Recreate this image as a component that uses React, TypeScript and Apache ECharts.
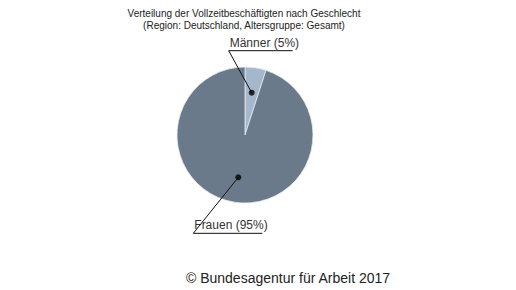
import React, { useEffect, useRef } from "react";
import * as echarts from "echarts";

const titleLines = [
  "Verteilung der Vollzeitbeschäftigten nach Geschlecht",
  "(Region: Deutschland, Altersgruppe: Gesamt)",
];
const categories = ["Männer", "Frauen"];
const shares = [5, 95];
const colors = ["#a4b7cd", "#6b7a8b"];
const footer = "© Bundesagentur für Arbeit 2017";

const CENTER: [number, number] = [245, 135];
const RADIUS = 68;
const DOT_FRACTION = 0.63;
// label line geometry (offsets relative to dot)
const labelGeom = [
  { corner: [-23, -42], width: 64 },
  { corner: [-45, 56], width: 69 },
];

export default function App() {
  const ref = useRef<HTMLDivElement>(null);
  useEffect(() => {
    if (!ref.current) return;
    const chart = echarts.init(ref.current, null, { renderer: "svg" });
    const total = shares.reduce((a, b) => a + b, 0);
    let cum = 0;
    const mids: number[] = [];
    const dots = shares.map((v, i) => {
      const mid = cum + v / 2;
      cum += v;
      mids.push(mid / total);
      return { name: categories[i], value: [DOT_FRACTION, (mid / total) * 100] };
    });
    const dotPixel = (i: number) => {
      const a = mids[i] * Math.PI * 2;
      const d = DOT_FRACTION * RADIUS;
      return [CENTER[0] + d * Math.sin(a), CENTER[1] - d * Math.cos(a)];
    };
    const guide = (i: number) => {
      const dot = dotPixel(i);
      const g = labelGeom[i];
      const corner = [dot[0] + g.corner[0], dot[1] + g.corner[1]];
      const end = [corner[0] + g.width, corner[1]];
      return { dot, corner, end };
    };
    const font = "Liberation Sans";
    const pieData = categories.map((c, i) => ({
      name: c,
      value: shares[i],
      itemStyle: { color: colors[i] },
    }));
    chart.setOption({
      animation: false,
      title: [
        {
          text: titleLines.join("\n"),
          left: 239,
          textAlign: "center",
          top: 2,
          textStyle: {
            fontSize: 10,
            fontWeight: "normal",
            color: "#222",
            fontFamily: font,
            lineHeight: 12,
          },
        },
        {
          text: footer,
          left: 283,
          textAlign: "center",
          top: 266,
          textStyle: {
            fontSize: 14,
            fontWeight: "normal",
            color: "#222",
            fontFamily: font,
          },
        },
      ],
      graphic: categories.map((_, i) => {
        const { dot, corner, end } = guide(i);
        return {
          type: "polyline",
          z: 50,
          silent: true,
          shape: { points: [dot, corner, end] },
          style: { stroke: "#111", lineWidth: 1, fill: null },
        };
      }),
      polar: { center: CENTER, radius: RADIUS },
      angleAxis: {
        type: "value",
        min: 0,
        max: 100,
        startAngle: 90,
        clockwise: true,
        show: false,
      },
      radiusAxis: { type: "value", min: 0, max: 1, show: false },
      series: [
        {
          type: "pie",
          z: 2,
          center: CENTER,
          radius: RADIUS,
          startAngle: 90,
          clockwise: true,
          silent: true,
          data: pieData,
          itemStyle: { borderColor: "#e6eaef", borderWidth: 0.8 },
          label: {
            show: true,
            position: "outside",
            formatter: (p: any) => `${p.name} (${p.value}%)`,
            fontSize: 12,
            fontFamily: font,
            color: "#333",
          },
          labelLine: { show: false },
          labelLayout: (params: any) => {
            const { corner } = guide(params.dataIndex);
            return {
              x: corner[0] + 1,
              y: corner[1] - 2,
              align: "left",
              verticalAlign: "bottom",
            };
          },
        },
        {
          type: "scatter",
          coordinateSystem: "polar",
          silent: true,
          symbolSize: 6,
          itemStyle: { color: "#000" },
          data: dots,
          z: 60,
        },
      ],
    });
    return () => chart.dispose();
  }, []);
  return (
    <div
      ref={ref}
      style={{ position: "absolute", left: 0, top: 0, width: 516, height: 290, background: "#fff" }}
    />
  );
}
